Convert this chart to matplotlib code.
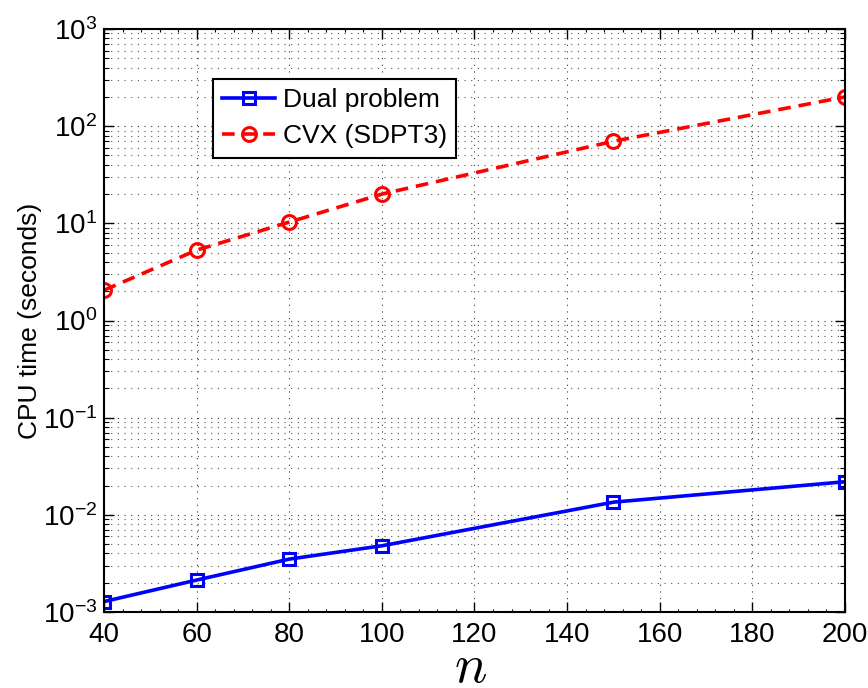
import matplotlib.pyplot as plt
from matplotlib.ticker import AutoMinorLocator, LogLocator, NullFormatter

n = [40, 60, 80, 100, 150, 200]
dual_time = [1.28e-3, 2.13e-3, 3.5e-3, 4.8e-3, 1.35e-2, 2.19e-2]
cvx_time = [2.05, 5.3, 10.3, 20, 70, 200]

plt.rcParams['font.family'] = ['Liberation Sans', 'DejaVu Sans']
plt.rcParams['mathtext.fontset'] = 'cm'

fig = plt.figure(figsize=(8.68, 6.88), dpi=100)
ax = fig.add_axes([0.1198, 0.1105, 0.8537, 0.8473])

ax.semilogy(n, dual_time, '-s', color='blue', lw=2.6, ms=8,
            mfc='none', mew=2.2, label='Dual problem')
ax.semilogy(n, cvx_time, '--o', color='red', lw=2.6, ms=10,
            mfc='none', mew=2.2, label='CVX (SDPT3)', dashes=(3.5, 2.2))

ax.set_xlim(40, 200)
ax.set_ylim(1e-3, 1e3)
ax.set_xticks(range(40, 201, 20))
ax.xaxis.set_minor_locator(AutoMinorLocator(5))
ax.yaxis.set_major_locator(LogLocator(base=10, numticks=10))
ax.yaxis.set_minor_locator(LogLocator(base=10, subs=range(2, 10), numticks=20))
ax.yaxis.set_minor_formatter(NullFormatter())

ax.grid(True, which='major', axis='both', ls=(0, (1, 5)), color='#333333', lw=0.8)
ax.grid(True, which='minor', axis='y', ls=(0, (1, 5)), color='#555555', lw=0.8)

ax.tick_params(which='both', direction='in', top=True, right=True, labelsize=20)
ax.tick_params(which='major', length=7, width=1)
ax.tick_params(which='minor', length=3.5, width=0.8)
ax.tick_params(axis='x', which='minor', length=2)
ax.tick_params(axis='x', pad=7)
ax.tick_params(axis='y', pad=5)
for s in ax.spines.values():
    s.set_linewidth(1.5)

ax.set_xlabel('$n$', fontsize=39)
ax.xaxis.set_label_coords(0.495, -0.12)
ax.xaxis.label.set_va('baseline')
ax.set_ylabel('CPU time (seconds)', fontsize=19)
ax.yaxis.set_label_coords(-0.084, 0.5)

leg = ax.legend(loc='upper left', bbox_to_anchor=(0.147, 0.914), fontsize=19,
                fancybox=False, edgecolor='black', framealpha=1,
                handlelength=2.0, handletextpad=0.3, borderpad=0.35,
                labelspacing=0.45, borderaxespad=0)
leg.get_frame().set_linewidth(1.5)

fig.savefig('out.png', dpi=100)
